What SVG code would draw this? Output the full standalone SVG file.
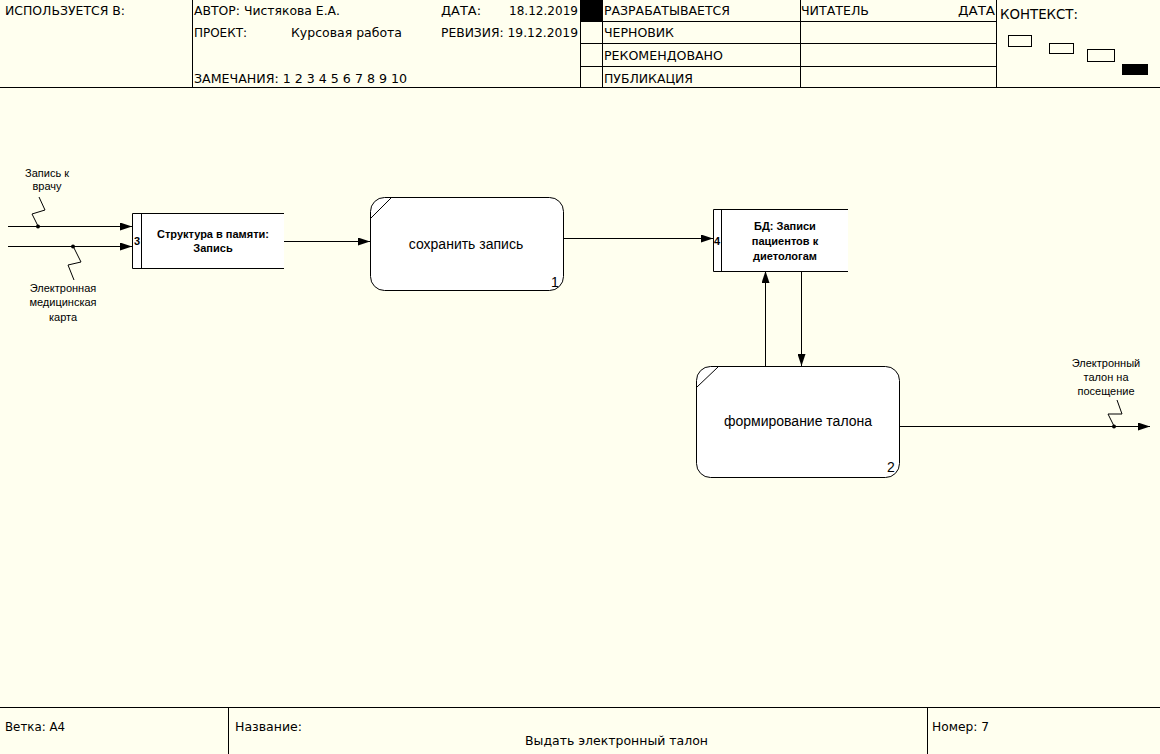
<svg xmlns="http://www.w3.org/2000/svg" width="1160" height="754" viewBox="0 0 1160 754">
<defs>
<marker id="arr" markerWidth="12" markerHeight="8" refX="12" refY="4" orient="auto" markerUnits="userSpaceOnUse">
<path d="M0,0 L12,4 L0,8 Z" fill="#000"/>
</marker>
<style>
.frame{stroke:#000;stroke-width:1;fill:none}
.hd{font-family:"DejaVu Sans Condensed","Liberation Sans",sans-serif;font-size:13px;fill:#000}
.lbl{font-family:"Liberation Sans",Arial,sans-serif;font-size:11px;fill:#000;text-anchor:middle}
.proc{fill:#fff;stroke:#000;stroke-width:1}
.ptxt{font-family:"Liberation Sans",Arial,sans-serif;font-size:14px;fill:#000;text-anchor:middle}
.stxt{font-family:"Liberation Sans",Arial,sans-serif;font-size:11px;font-weight:bold;fill:#000;text-anchor:middle}
.conn{stroke:#000;stroke-width:1;fill:none}
</style>
</defs>
<rect width="1160" height="754" fill="#FFFFEF"/>
<g id="header">
<line class="frame" x1="0" y1="87.5" x2="1160" y2="87.5"/>
<line class="frame" x1="192.5" y1="0" x2="192.5" y2="87"/>
<line class="frame" x1="580.5" y1="0" x2="580.5" y2="87"/>
<line class="frame" x1="602.5" y1="0" x2="602.5" y2="87"/>
<line class="frame" x1="800.5" y1="0" x2="800.5" y2="87"/>
<line class="frame" x1="996.5" y1="0" x2="996.5" y2="87"/>
<line class="frame" x1="580" y1="21.5" x2="996" y2="21.5"/>
<line class="frame" x1="580" y1="43.5" x2="996" y2="43.5"/>
<line class="frame" x1="580" y1="66.5" x2="996" y2="66.5"/>
<rect x="580" y="0" width="22" height="21" fill="#000"/>
<text class="hd" x="5" y="15" textLength="120" lengthAdjust="spacingAndGlyphs">ИСПОЛЬЗУЕТСЯ В:</text>
<text class="hd" x="194" y="15" textLength="146" lengthAdjust="spacingAndGlyphs">АВТОР: Чистякова Е.А.</text>
<text class="hd" x="441" y="15" textLength="40" lengthAdjust="spacingAndGlyphs">ДАТА:</text>
<text class="hd" x="509" y="15" textLength="69" lengthAdjust="spacingAndGlyphs">18.12.2019</text>
<text class="hd" x="194" y="37" textLength="53" lengthAdjust="spacingAndGlyphs">ПРОЕКТ:</text>
<text class="hd" x="291" y="37" textLength="111" lengthAdjust="spacingAndGlyphs">Курсовая работа</text>
<text class="hd" x="441" y="37" textLength="137" lengthAdjust="spacingAndGlyphs">РЕВИЗИЯ: 19.12.2019</text>
<text class="hd" x="194" y="83" textLength="213" lengthAdjust="spacingAndGlyphs">ЗАМЕЧАНИЯ: 1 2 3 4 5 6 7 8 9 10</text>
<text class="hd" x="604" y="15" textLength="126" lengthAdjust="spacingAndGlyphs">РАЗРАБАТЫВАЕТСЯ</text>
<text class="hd" x="801" y="15" textLength="68" lengthAdjust="spacingAndGlyphs">ЧИТАТЕЛЬ</text>
<text class="hd" x="958" y="15" textLength="37" lengthAdjust="spacingAndGlyphs">ДАТА</text>
<text class="hd" x="604" y="37" textLength="70" lengthAdjust="spacingAndGlyphs">ЧЕРНОВИК</text>
<text class="hd" x="604" y="60" textLength="119" lengthAdjust="spacingAndGlyphs">РЕКОМЕНДОВАНО</text>
<text class="hd" x="604" y="83" textLength="89" lengthAdjust="spacingAndGlyphs">ПУБЛИКАЦИЯ</text>
<text class="hd" x="1000" y="19" style="font-size:14px" textLength="78" lengthAdjust="spacingAndGlyphs">КОНТЕКСТ:</text>
<rect class="frame" x="1008.5" y="35.5" width="23" height="11"/>
<rect class="frame" x="1049.5" y="43.5" width="24" height="10"/>
<rect class="frame" x="1087.5" y="49.5" width="27" height="12"/>
<rect x="1122" y="64" width="26" height="11" fill="#000"/>
</g>
<g id="footer">
<line class="frame" x1="0" y1="707.5" x2="1160" y2="707.5"/>
<line class="frame" x1="228.5" y1="707" x2="228.5" y2="754"/>
<line class="frame" x1="927.5" y1="707" x2="927.5" y2="754"/>
<text class="hd" x="5" y="731" textLength="60" lengthAdjust="spacingAndGlyphs">Ветка: A4</text>
<text class="hd" x="235" y="731" textLength="67" lengthAdjust="spacingAndGlyphs">Название:</text>
<text class="hd" x="525" y="745" textLength="183" lengthAdjust="spacingAndGlyphs">Выдать электронный талон</text>
<text class="hd" x="932" y="731" textLength="57" lengthAdjust="spacingAndGlyphs">Номер: 7</text>
</g>
<g id="connectors">
<line class="conn" x1="8" y1="226.5" x2="132" y2="226.5" marker-end="url(#arr)"/>
<line class="conn" x1="8" y1="246.5" x2="132" y2="246.5" marker-end="url(#arr)"/>
<line class="conn" x1="283" y1="241.5" x2="370" y2="241.5" marker-end="url(#arr)"/>
<line class="conn" x1="563" y1="238.5" x2="713" y2="238.5" marker-end="url(#arr)"/>
<line class="conn" x1="765.5" y1="366" x2="765.5" y2="271" marker-end="url(#arr)"/>
<line class="conn" x1="801.5" y1="271" x2="801.5" y2="366" marker-end="url(#arr)"/>
<line class="conn" x1="899" y1="426.5" x2="1150" y2="426.5" marker-end="url(#arr)"/>
<circle cx="38" cy="226.5" r="2" fill="#000"/>
<circle cx="73" cy="246.5" r="2" fill="#000"/>
<circle cx="1114" cy="426.5" r="2" fill="#000"/>
<polyline class="conn" points="39,197 45,210 32,214 38,226"/>
<polyline class="conn" points="73,246 81,262 68,265 74,280"/>
<polyline class="conn" points="1114,426 1108,414 1122,414 1117,400"/>
<text class="lbl" x="47" y="177">Запись к</text>
<text class="lbl" x="47" y="190">врачу</text>
<text class="lbl" x="63" y="292">Электронная</text>
<text class="lbl" x="63" y="306">медицинская</text>
<text class="lbl" x="63" y="321">карта</text>
<text class="lbl" x="1106" y="367">Электронный</text>
<text class="lbl" x="1106" y="381">талон на</text>
<text class="lbl" x="1106" y="395">посещение</text>
</g>
<g id="store3">
<path class="proc" d="M284,213.5 H132.5 V268.5 H284"/>
<line class="frame" x1="141.5" y1="213.5" x2="141.5" y2="268.5"/>
<text class="stxt" x="137" y="245">3</text>
<text class="stxt" x="213" y="238">Структура в памяти:</text>
<text class="stxt" x="213" y="252">Запись</text>
</g>
<g id="process1">
<rect class="proc" x="370.5" y="197.5" width="193" height="93" rx="14"/>
<line class="frame" x1="371" y1="218" x2="391" y2="198"/>
<text class="ptxt" x="466" y="249">сохранить запись</text>
<text class="ptxt" x="555" y="287">1</text>
</g>
<g id="store4">
<path class="proc" d="M848,209.5 H713.5 V271.5 H848"/>
<line class="frame" x1="721.5" y1="209.5" x2="721.5" y2="271.5"/>
<text class="stxt" x="717" y="245">4</text>
<text class="stxt" x="785" y="230">БД: Записи</text>
<text class="stxt" x="785" y="245">пациентов к</text>
<text class="stxt" x="785" y="260">диетологам</text>
</g>
<g id="process2">
<rect class="proc" x="696.5" y="366.5" width="203" height="111" rx="14"/>
<line class="frame" x1="697" y1="387" x2="718" y2="367"/>
<text class="ptxt" x="798" y="426">формирование талона</text>
<text class="ptxt" x="891" y="472">2</text>
</g>
</svg>
